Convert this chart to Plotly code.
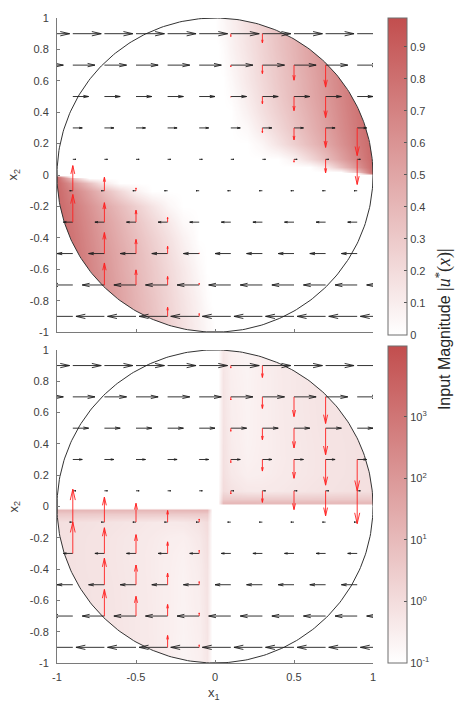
import numpy as np
import plotly.graph_objects as go

# ---------------- data ----------------
# heatmap sample grid for the quadrant x1>=0, x2>=0 (mirrored through the origin for x1<=0, x2<=0)
hx = [0, 0.02, 0.05, 0.1, 0.2, 0.3, 0.4, 0.5, 0.6, 0.7, 0.8, 0.9, 1.0]
hy = [0, 0.01, 0.02, 0.05, 0.1, 0.2, 0.3, 0.4, 0.5, 0.6, 0.7, 0.8, 0.9, 1.0]

# top panel |u*(x)| (linear colour scale)
top_q1 = [
    [0, 0, 0, 0, 0, 0, 0, 0, 0, 0, 0, 0, 0],
    [0, 0, 0, 0, 0, 0, 0, 0, 0, 0, 0, 0, 0.99],
    [0, 0, 0, 0, 0, 0, 0, 0, 0, 0, 0, 0.38, 0.99],
    [0, 0, 0, 0, 0, 0, 0, 0, 0, 0.14, 0.41, 0.69, 0.99],
    [0, 0, 0, 0, 0, 0, 0, 0.09, 0.25, 0.43, 0.61, 0.80, 0.99],
    [0, 0, 0, 0, 0, 0.06, 0.18, 0.31, 0.44, 0.57, 0.71, 0.86, 0.99],
    [0, 0, 0, 0, 0.04, 0.15, 0.26, 0.38, 0.50, 0.62, 0.75, 0.88, 0.99],
    [0, 0, 0, 0, 0.09, 0.20, 0.31, 0.42, 0.53, 0.65, 0.77, 0.90, 0.99],
    [0, 0, 0, 0.02, 0.12, 0.23, 0.34, 0.45, 0.56, 0.67, 0.79, 0.91, 0.99],
    [0, 0, 0, 0.04, 0.15, 0.25, 0.36, 0.46, 0.57, 0.69, 0.80, 0.92, 0.99],
    [0, 0, 0.01, 0.06, 0.16, 0.27, 0.37, 0.48, 0.59, 0.70, 0.81, 0.92, 0.99],
    [0, 0, 0.02, 0.08, 0.18, 0.28, 0.39, 0.49, 0.60, 0.71, 0.82, 0.93, 0.99],
    [0, 0.01, 0.04, 0.09, 0.19, 0.29, 0.40, 0.50, 0.61, 0.72, 0.83, 0.94, 0.99],
    [0, 0.02, 0.05, 0.10, 0.20, 0.31, 0.41, 0.51, 0.62, 0.73, 0.84, 0.95, 0.99],
]

# bottom panel |u*(x)| (log colour scale, 0.1 = white floor)
bot_q1 = [
    [0.1] * 13,
    [0.1] * 13,
    [0.1, 0.1, 30, 30, 28, 26, 26, 26, 26, 26, 26, 26, 26],
    [0.1, 0.1, 6, 6, 5.5, 5.5, 5.5, 5.5, 5.6, 5.8, 6.0, 6.2, 6.4],
    [0.1, 0.1, 1.6, 0.9, 0.6, 0.55, 0.6, 0.7, 0.8, 0.9, 1.0, 1.1, 1.2],
    [0.1, 0.1, 1.2, 0.6, 0.35, 0.4, 0.5, 0.6, 0.7, 0.81, 0.92, 1.03, 1.14],
    [0.1, 0.1, 1.1, 0.5, 0.3, 0.37, 0.47, 0.58, 0.69, 0.8, 0.91, 1.02, 1.13],
    [0.1, 0.1, 1.0, 0.45, 0.28, 0.36, 0.47, 0.59, 0.7, 0.81, 0.92, 1.03, 1.14],
    [0.1, 0.1, 0.95, 0.42, 0.27, 0.36, 0.48, 0.6, 0.72, 0.84, 0.95, 1.05, 1.15],
    [0.1, 0.1, 0.9, 0.4, 0.27, 0.36, 0.48, 0.61, 0.73, 0.85, 0.96, 1.07, 1.17],
    [0.1, 0.1, 0.85, 0.38, 0.26, 0.36, 0.49, 0.62, 0.74, 0.86, 0.98, 1.08, 1.18],
    [0.1, 0.1, 0.8, 0.36, 0.26, 0.36, 0.49, 0.62, 0.75, 0.87, 0.99, 1.1, 1.2],
    [0.1, 0.1, 0.75, 0.34, 0.25, 0.36, 0.5, 0.63, 0.76, 0.88, 1.0, 1.1, 1.2],
    [0.1, 0.1, 0.7, 0.32, 0.24, 0.36, 0.5, 0.63, 0.76, 0.88, 1.0, 1.1, 1.2],
]

# drift field (black quiver): horizontal rate per row
drift_x = [-1.1, -0.9, -0.7, -0.5, -0.3, -0.1, 0.1, 0.3, 0.5, 0.7, 0.9, 1.1]
drift_y = [0.9, 0.7, 0.5, 0.3, 0.1, -0.1, -0.3, -0.5, -0.7, -0.9]
drift_rate = [0.9, 0.7, 0.5, 0.3, 0.1, -0.1, -0.3, -0.5, -0.7, -0.9]

# input field (red quiver) in quadrant I, mirrored to quadrant III (pointing up)
in_x = [0.1, 0.3, 0.1, 0.3, 0.5, 0.7, 0.1, 0.3, 0.5, 0.7, 0.1, 0.3, 0.5, 0.7, 0.9, 0.1, 0.3, 0.5, 0.7, 0.9]
in_y = [0.9, 0.9, 0.7, 0.7, 0.7, 0.7, 0.5, 0.5, 0.5, 0.5, 0.3, 0.3, 0.3, 0.3, 0.3, 0.1, 0.1, 0.1, 0.1, 0.1]
top_u = [0.09, 0.29, 0.06, 0.27, 0.48, 0.70, 0.02, 0.23, 0.45, 0.67, 0.0, 0.15, 0.38, 0.62, 0.88, 0.0, 0.0, 0.09, 0.43, 0.80]
bot_u = [0.08, 0.38, 0.1, 0.37, 0.63, 0.85, 0.1, 0.37, 0.63, 0.85, 0.1, 0.37, 0.6, 0.82, 1.0, 0.1, 0.37, 0.6, 0.8, 1.05]

top_ticks = [0, 0.1, 0.2, 0.3, 0.4, 0.5, 0.6, 0.7, 0.8, 0.9]
bot_ticks = [-1, 0, 1, 2, 3]
bot_ticktext = ["10<sup>-1</sup>", "10<sup>0</sup>", "10<sup>1</sup>", "10<sup>2</sup>", "10<sup>3</sup>"]
yticks = [-1, -0.8, -0.6, -0.4, -0.2, 0, 0.2, 0.4, 0.6, 0.8, 1]
ytext = ["-1", "-0.8", "-0.6", "-0.4", "-0.2", "0", "0.2", "0.4", "0.6", "0.8", "1"]
xticks = [-1, -0.5, 0, 0.5, 1]
xtext = ["-1", "-0.5", "0", "0.5", "1"]

# ---------------- helpers ----------------
SCALE = 0.2
A, B = 0.33, 0.23  # quiver head length / width factors


def full_field(q1, fill):
    xq = np.array(hx, float)
    yq = np.array(hy, float)
    xf = np.concatenate([-xq[:0:-1], xq])
    yf = np.concatenate([-yq[:0:-1], yq])
    q = np.array(q1, float)
    n = len(xq) - 1
    m = len(yq) - 1
    Z = np.full((len(yf), len(xf)), fill, float)
    Z[m:, n:] = q
    Z[:m + 1, :n + 1] = q[::-1, ::-1]
    return xf, yf, Z


def arrow_path(xs, ys, us, vs):
    px, py = [], []
    for x, y, u, v in zip(xs, ys, us, vs):
        if u == 0 and v == 0:
            continue
        tx, ty = x + u, y + v
        px += [x, tx, None, tx - A * (u + B * v), tx, tx - A * (u - B * v), None]
        py += [y, ty, None, ty - A * (v - B * u), ty, ty - A * (v + B * u), None]
    return px, py


th = np.linspace(0, 2 * np.pi, 361)
cx, cy = np.cos(th), np.sin(th)
mask_x = [1.0, 1.3, 1.3, -1.3, -1.3, 1.3, 1.3, 1.0] + list(np.cos(-th))
mask_y = [0.0, 0.0, 1.3, 1.3, -1.3, -1.3, 0.0, 0.0] + list(np.sin(-th))

fig = go.Figure()

panels = [
    ("x", "y", top_q1, 0.0, False, top_u, "coloraxis"),
    ("x2", "y2", bot_q1, 0.1, True, bot_u, "coloraxis2"),
]
for xa, ya, q1, fill, logc, uvals, cax in panels:
    xf, yf, Z = full_field(q1, fill)
    if logc:
        Z = np.log10(Z)
    fig.add_trace(go.Heatmap(x=xf, y=yf, z=Z, coloraxis=cax, zsmooth="best", opacity=0.85,
                             hoverinfo="skip", xaxis=xa, yaxis=ya))
    fig.add_trace(go.Scatter(x=mask_x, y=mask_y, fill="toself", fillcolor="white", mode="lines",
                             line=dict(width=0, color="white"), hoverinfo="skip", showlegend=False,
                             xaxis=xa, yaxis=ya))
    fig.add_trace(go.Scatter(x=cx, y=cy, mode="lines", line=dict(color="#333333", width=1),
                             hoverinfo="skip", showlegend=False, xaxis=xa, yaxis=ya))
    # black drift arrows
    bxs, bys, bus, bvs = [], [], [], []
    for yv, r in zip(drift_y, drift_rate):
        for xv in drift_x:
            bxs.append(xv); bys.append(yv); bus.append(SCALE * r); bvs.append(0.0)
    px, py = arrow_path(bxs, bys, bus, bvs)
    fig.add_trace(go.Scatter(x=px, y=py, mode="lines", line=dict(color="#1e1e1e", width=0.9),
                             hoverinfo="skip", showlegend=False, xaxis=xa, yaxis=ya))
    # red input arrows (quadrant I down, quadrant III up)
    rxs = list(in_x) + [-v for v in in_x]
    rys = list(in_y) + [-v for v in in_y]
    rus = [0.0] * (2 * len(in_x))
    rvs = [-SCALE * u for u in uvals] + [SCALE * u for u in uvals]
    px, py = arrow_path(rxs, rys, rus, rvs)
    fig.add_trace(go.Scatter(x=px, y=py, mode="lines", line=dict(color="#ff1f1f", width=0.9),
                             hoverinfo="skip", showlegend=False, xaxis=xa, yaxis=ya))

FONT = "Liberation Sans, Arial, sans-serif"
axcol = "#7a7a7a"
txtcol = "#404040"
W, H = 459, 704
L, R, T, Bm = 57, 86, 12, 41
PW, PH = W - L - R, H - T - Bm

common_x = dict(range=[-1, 1], tickvals=xticks, ticktext=xtext, ticks="inside", ticklen=3,
                tickcolor=axcol, showline=True, linecolor=axcol, linewidth=1, zeroline=False,
                showgrid=False, tickfont=dict(size=11, color=txtcol, family=FONT),
                ticklabelstandoff=4)
common_y = dict(range=[-1, 1], tickvals=yticks, ticktext=ytext, ticks="inside", ticklen=3,
                tickcolor=axcol, showline=True, linecolor=axcol, linewidth=1, zeroline=False,
                showgrid=False, tickfont=dict(size=11, color=txtcol, family=FONT),
                ticklabelstandoff=5)

cscale = [[0, "rgb(255,255,255)"], [1, "rgb(194,78,78)"]]
cb_common = dict(xref="paper", x=(388 - L) / PW, xanchor="left", xpad=0, thickness=19,
                 thicknessmode="pixels", lenmode="pixels", len=317, ypad=0, ticks="inside",
                 ticklen=3, tickcolor="#555555", outlinecolor="#6e6e6e", outlinewidth=1,
                 tickfont=dict(size=11, color=txtcol, family=FONT))

fig.update_layout(
    width=W, height=H, margin=dict(l=L, r=R, t=T, b=Bm),
    paper_bgcolor="white", plot_bgcolor="white", showlegend=False,
    font=dict(family=FONT, size=11, color=txtcol),
    xaxis=dict(domain=[0, 1], anchor="y", showticklabels=False, **common_x),
    yaxis=dict(domain=[(H - Bm - 329) / PH, 1], anchor="x", **common_y),
    xaxis2=dict(domain=[0, 1], anchor="y2", **common_x),
    yaxis2=dict(domain=[0, (H - Bm - 347) / PH], anchor="x2", **common_y),
    coloraxis=dict(colorscale=cscale, cmin=0, cmax=0.99,
                   colorbar=dict(y=1, yanchor="top", tickvals=top_ticks,
                                 ticktext=[str(t) if t else "0" for t in top_ticks], **cb_common)),
    coloraxis2=dict(colorscale=cscale, cmin=-1, cmax=4.15,
                    colorbar=dict(y=0, yanchor="bottom", tickvals=bot_ticks,
                                  ticktext=bot_ticktext, **cb_common)),
)

ann = [
    dict(text="x<sub>2</sub>", x=(14 - L) / PW, y=(H - Bm - 170) / PH, textangle=-90,
         font=dict(size=13, color=txtcol, family=FONT)),
    dict(text="x<sub>2</sub>", x=(14 - L) / PW, y=(H - Bm - 505) / PH, textangle=-90,
         font=dict(size=13, color=txtcol, family=FONT)),
    dict(text="x<sub>1</sub>", x=(214 - L) / PW, y=(H - Bm - 694) / PH, textangle=0,
         font=dict(size=13, color=txtcol, family=FONT)),
    dict(text='Input Magnitude <span style="font-family:Liberation Serif;font-size:18px">|<i>u</i>'
              '<sup>*</sup>(<i>x</i>)|</span>',
         x=(444 - L) / PW, y=(H - Bm - 326) / PH, textangle=-90,
         font=dict(size=16, color="#262626", family=FONT)),
]
for a in ann:
    a.update(xref="paper", yref="paper", showarrow=False, xanchor="center", yanchor="middle")
fig.update_layout(annotations=ann)

fig.write_html("out.html", config={"displayModeBar": False},
               post_script="document.body.style.margin='0';document.body.style.overflow='hidden';")
